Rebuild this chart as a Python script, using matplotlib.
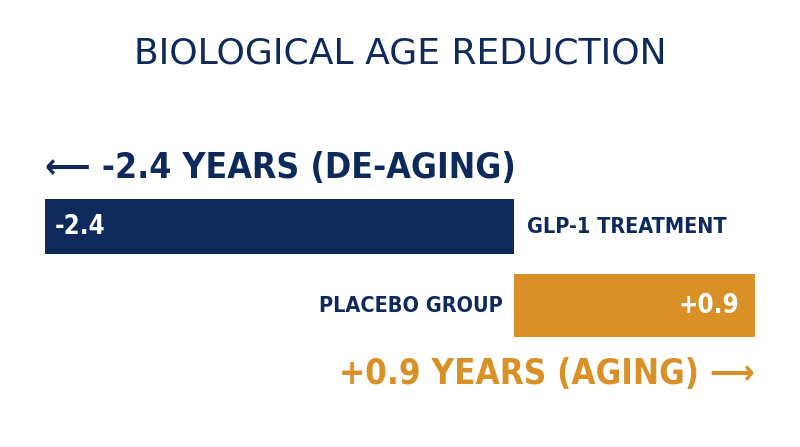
import numpy as np
import matplotlib
matplotlib.use("Agg")
import matplotlib.pyplot as plt

# data
groups = ["GLP-1 TREATMENT", "PLACEBO GROUP"]
changes = [-2.4, 0.9]
value_labels = ["-2.4", "+0.9"]
title = "BIOLOGICAL AGE REDUCTION"
neg_caption = "\u27f5 -2.4 YEARS (DE-AGING)"
pos_caption = "+0.9 YEARS (AGING) \u27f6"

NAVY = "#0e2a5a"
ORANGE = "#d99127"
COND = dict(family="DejaVu Sans", stretch="condensed", fontweight="bold")

# the picture draws the positive side wider than the negative side
POS_STRETCH = 1.37


def fwd(x):
    x = np.asarray(x, dtype=float)
    return np.where(x < 0, x, x * POS_STRETCH)


def inv(x):
    x = np.asarray(x, dtype=float)
    return np.where(x < 0, x, x / POS_STRETCH)


fig = plt.figure(figsize=(8, 4.47), dpi=100)
fig.patch.set_facecolor("white")
ax = fig.add_axes([45 / 800, 0, 710 / 800, 1])
ax.set_xscale("function", functions=(fwd, inv))
ax.set_xlim(min(changes), max(changes))
ax.set_ylim(2.791, -2.867)
ax.axis("off")

ypos = np.arange(len(groups))
colors = [NAVY, ORANGE]
heights = [0.70, 0.80]
ax.barh(ypos, changes, height=heights, color=colors, edgecolor="none")

# value labels inside bars
ax.annotate(value_labels[0], (changes[0], ypos[0]), xytext=(7, 0), textcoords="offset points",
            ha="left", va="center", color="white", fontsize=18.5, **COND)
ax.annotate(value_labels[1], (changes[1], ypos[1]), xytext=(-11, 0), textcoords="offset points",
            ha="right", va="center", color="white", fontsize=18.5, **COND)

# group names next to the zero line
ax.annotate(groups[0], (0, ypos[0]), xytext=(9, 0), textcoords="offset points",
            ha="left", va="center", color=NAVY, fontsize=15.5, **COND)
ax.annotate(groups[1], (0, ypos[1]), xytext=(-8, 0), textcoords="offset points",
            ha="right", va="center", color=NAVY, fontsize=15.5, **COND)

# captions
ax.annotate(neg_caption, (changes[0], ypos[0]), xytext=(0, 30), textcoords="offset points",
            ha="left", va="bottom", color=NAVY, fontsize=25.5, **COND)
ax.annotate(pos_caption, (changes[1], ypos[1]), xytext=(0, -37), textcoords="offset points",
            ha="right", va="top", color=ORANGE, fontsize=25, **COND)

fig.text(0.5, 1 - 54 / 447, title, ha="center", va="center", color=NAVY,
         fontsize=26, family="DejaVu Sans")

fig.savefig("out.png", dpi=100, facecolor="white")
